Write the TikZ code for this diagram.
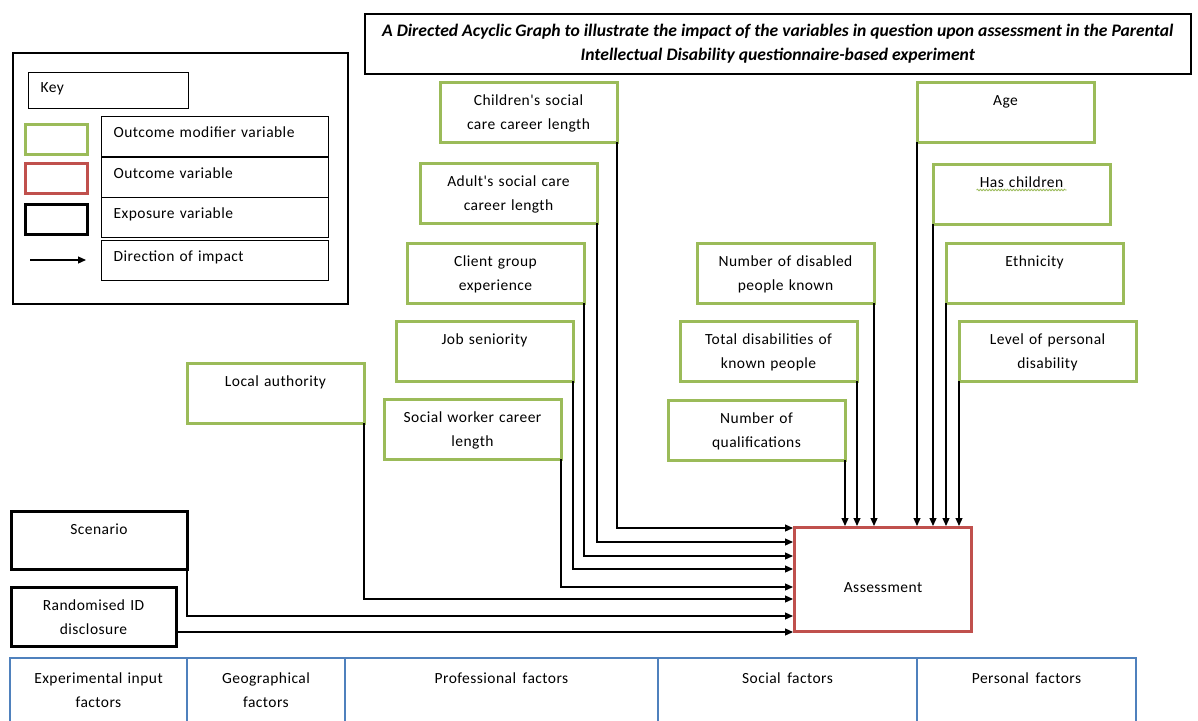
\documentclass[tikz,border=0pt]{standalone}
\usepackage{fontspec}
\setmainfont{Carlito}
\newfontfamily\bodyfont{Carlito}[LetterSpace=3]
\newfontfamily\titlefont{Carlito}
\newcommand\widespaces{\spaceskip=6.5pt plus 1pt\relax}
\usetikzlibrary{arrows.meta,decorations.pathmorphing}
\definecolor{modgreen}{RGB}{155,187,89}
\definecolor{outred}{RGB}{192,80,77}
\definecolor{factorblue}{RGB}{79,129,189}

\begin{document}
\begin{tikzpicture}[x=1pt,y=-1pt,
        every node/.style={font=\bodyfont\fontsize{15.5}{24}\selectfont\widespaces, inner sep=0pt, anchor=north west, align=center},
        modbox/.style={draw=modgreen, line width=3pt, outer sep=0pt, minimum width=177pt, text width=169pt, inner xsep=4pt, text height=23pt, text depth=37pt},
        expbox/.style={draw=black, line width=3pt, outer sep=0pt, text height=23pt, text depth=35pt},
        outbox/.style={draw=outred, line width=3pt, minimum width=177pt, text height=65pt, text depth=39pt},
        keybox/.style={draw=black, line width=1.3pt, minimum width=227pt, align=left, text width=203pt, inner xsep=12pt, text height=21pt, text depth=19pt},
        swatch/.style={line width=3pt, minimum width=62pt, minimum height=30pt},
        factor/.style={draw=factorblue, line width=2.5pt, outer sep=0pt, inner xsep=4pt, text height=25pt, text depth=45pt},
        impact/.style={line width=1.2pt, -{Triangle[length=8pt,width=7pt]}}
    ]
        \useasboundingbox (0,0) rectangle (1198,720);
        \clip (0,0) rectangle (1198,720);

        \node[draw, line width=1.5pt, minimum width=826pt, minimum height=60pt, font=\titlefont\bfseries\itshape\fontsize{17.6}{24}\selectfont] (title) at (364,13)
            {A Directed Acyclic Graph to illustrate the impact of the variables in question upon assessment in the Parental\\Intellectual Disability questionnaire-based experiment};

        \node[draw, line width=1.5pt, minimum width=335pt, minimum height=251pt] (keyframe) at (12,52) {};
        \node[draw, line width=1.3pt, minimum width=160pt, align=left, text width=136pt, inner xsep=12pt, text height=20pt, text depth=16pt] (keylabel) at (28,72) {Key};
        \node[keybox] (keymod) at (101,116) {Outcome modifier variable};
        \node[keybox] (keyout) at (101,157) {Outcome variable};
        \node[keybox] (keyexp) at (101,197) {Exposure variable};
        \node[keybox] (keydir) at (101,240) {Direction of impact};
        \node[swatch, draw=modgreen] (swmod) at (24,123) {};
        \node[swatch, draw=outred] (swout) at (24,162) {};
        \node[swatch, draw=black] (swexp) at (24,203) {};
        \coordinate (keytail) at (30,260);
        \coordinate (keyhead) at (86,260);
        \draw[impact] (keytail) -- (keyhead);

        \node[modbox] (children) at (440,82) {Children's social\\care career length};
        \node[modbox] (adult) at (420,163) {Adult's social care\\career length};
        \node[modbox] (client) at (407,243) {Client group\\experience};
        \node[modbox] (seniority) at (396,321) {Job seniority};
        \node[modbox] (swlength) at (384,399) {Social worker career\\length};
        \node[modbox] (localauth) at (187,363) {Local authority};

        \node[modbox] (numdisabled) at (697,243) {Number of disabled\\people known};
        \node[modbox] (totaldis) at (680,321) {Total disabilities of\\known people};
        \node[modbox] (numqual) at (668,400) {Number of\\qualifications};

        \node[modbox] (age) at (917,82) {Age};
        \node[modbox] (haschildren) at (933,164) {Has children};
        \node[modbox] (ethnicity) at (946,243) {Ethnicity};
        \node[modbox] (persdis) at (959,321) {Level of personal\\disability};
        \draw[modgreen, line width=0.8pt, decorate, decoration={snake, amplitude=0.8pt, segment length=3pt}]
            ([xshift=-45pt, yshift=-26pt]haschildren.north) -- ([xshift=45pt, yshift=-26pt]haschildren.north);

        \node[expbox, minimum width=176pt] (scenario) at (11,511) {Scenario};
        \node[expbox, minimum width=165pt, text width=157pt, inner xsep=4pt, text depth=36pt] (randomid) at (11,587) {Randomised ID\\disclosure};

        \node[outbox] (assess) at (793,526) {Assessment};

        \draw[impact] (children.south east) |- ([yshift=-2pt]assess.north west);
        \draw[impact] (adult.south east) |- ([yshift=-16pt]assess.north west);
        \draw[impact] (client.south east) |- ([yshift=-30pt]assess.north west);
        \draw[impact] (seniority.south east) |- ([yshift=-43pt]assess.north west);
        \draw[impact] (swlength.south east) |- ([yshift=-61pt]assess.north west);
        \draw[impact] (localauth.south east) |- ([yshift=-73pt]assess.north west);
        \draw[impact] (scenario.south east) |- ([yshift=-90pt]assess.north west);
        \coordinate (inrand) at ([yshift=-106pt]assess.north west);
        \draw[impact] (randomid.east |- inrand) -- (inrand);

        \draw[impact] (numqual.south east) -- (numqual.south east |- assess.north);
        \draw[impact] (totaldis.south east) -- (totaldis.south east |- assess.north);
        \draw[impact] (numdisabled.south east) -- (numdisabled.south east |- assess.north);
        \draw[impact] (age.south west) -- (age.south west |- assess.north);
        \draw[impact] (haschildren.south west) -- (haschildren.south west |- assess.north);
        \draw[impact] (ethnicity.south west) -- (ethnicity.south west |- assess.north);
        \draw[impact] (persdis.south west) -- (persdis.south west |- assess.north);

        \node[factor, minimum width=177pt, text width=169pt] (fexp) at (10,658) {Experimental input\\factors};
        \node[factor, minimum width=158pt, text width=150pt] (fgeo) at (187,658) {Geographical\\factors};
        \node[factor, minimum width=313pt] (fprof) at (345,658) {Professional factors};
        \node[factor, minimum width=259pt] (fsoc) at (658,658) {Social factors};
        \node[factor, minimum width=219pt] (fpers) at (917,658) {Personal factors};
    \end{tikzpicture}
\end{document}
